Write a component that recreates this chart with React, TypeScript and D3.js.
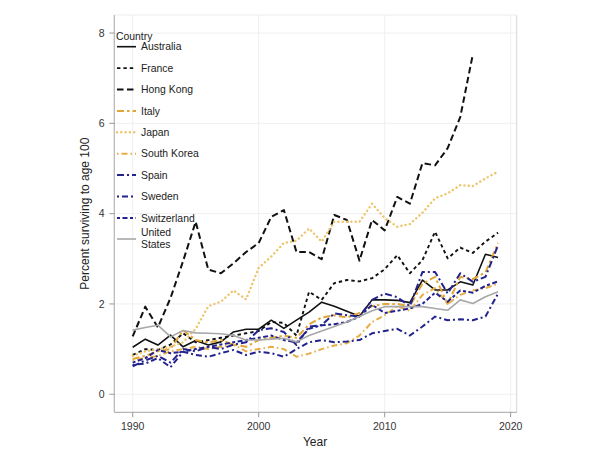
import React from "react";
import * as d3 from "d3";

const years = d3.range(1990, 2020);
const countries = ["Australia","France","Hong Kong","Italy","Japan","South Korea","Spain","Sweden","Switzerland","United States"];

const australia = [1.04,1.22,1.09,1.31,1.05,1.19,1.09,1.16,1.38,1.44,1.44,1.64,1.46,1.64,1.82,2.04,1.95,1.84,1.73,2.09,2.09,2.08,2.03,2.53,2.31,2.31,2.49,2.42,3.1,3.03];
const france = [0.87,1.0,0.98,1.1,1.35,1.15,1.2,1.25,1.3,1.35,1.4,1.6,1.58,1.3,2.27,2.09,2.46,2.53,2.5,2.57,2.77,3.08,2.68,2.97,3.6,3.01,3.25,3.13,3.38,3.58];
const hongKong = [1.28,1.94,1.48,2.13,2.95,3.82,2.76,2.68,2.9,3.15,3.35,3.93,4.08,3.15,3.15,2.99,3.97,3.86,2.96,3.86,3.63,4.37,4.22,5.12,5.07,5.45,6.14,7.53];
const italy = [0.78,0.85,0.95,1.0,1.42,1.2,1.15,1.2,1.1,1.05,1.2,1.25,1.3,1.25,1.55,1.7,1.75,1.7,1.8,1.95,2.0,2.0,1.95,2.45,2.6,2.0,2.6,2.55,2.7,3.35];
const japan = [0.85,0.95,1.0,1.05,1.15,1.45,1.95,2.05,2.3,2.1,2.8,3.05,3.35,3.4,3.67,3.38,3.82,3.82,3.82,4.22,3.9,3.71,3.77,4.02,4.34,4.45,4.63,4.61,4.78,4.93];
const southKorea = [0.75,0.8,0.85,0.95,1.0,1.05,1.0,1.05,1.1,0.95,1.0,1.05,1.0,0.83,0.9,1.0,1.08,1.13,1.3,1.6,1.75,1.95,1.85,2.2,2.35,2.0,2.2,2.3,2.35,2.45];
const spain = [0.62,0.75,0.85,0.7,1.0,0.95,1.05,1.0,1.1,1.15,1.42,1.46,1.38,1.09,1.5,1.53,1.79,1.75,1.72,2.09,2.23,2.15,1.95,2.71,2.71,2.23,2.68,2.49,2.6,3.3];
const sweden = [0.65,0.68,0.8,0.6,0.94,0.87,0.83,0.91,0.98,0.87,0.94,0.91,0.83,1.0,1.15,1.2,1.15,1.17,1.2,1.35,1.4,1.45,1.3,1.5,1.72,1.64,1.66,1.64,1.72,2.23];
const switzerland = [0.7,0.8,0.98,0.91,0.94,1.0,1.05,1.1,1.15,1.2,1.25,1.3,1.2,1.15,1.45,1.53,1.55,1.6,1.72,1.98,1.8,1.85,1.9,2.0,2.25,2.05,2.3,2.25,2.4,2.5];
const unitedStates = [1.42,1.48,1.53,1.27,1.41,1.36,1.35,1.34,1.3,1.2,1.2,1.22,1.24,1.16,1.3,1.4,1.5,1.6,1.72,1.85,1.94,1.94,1.94,1.94,1.9,1.86,2.09,2.01,2.16,2.27];

const seriesValues = [australia,france,hongKong,italy,japan,southKorea,spain,sweden,switzerland,unitedStates];

const xTicks = [1990, 2000, 2010, 2020];
const yTicks = [0, 2, 4, 6, 8];

const styles: Record<string, { color: string; dash: string; width: number; cap?: string }> = {
  "Australia": { color: "#111111", dash: "", width: 1.6 },
  "France": { color: "#111111", dash: "3.4,3", width: 1.9 },
  "Hong Kong": { color: "#111111", dash: "6.5,3.5", width: 2 },
  "Italy": { color: "#E3A535", dash: "7,3,2.5,3", width: 2 },
  "Japan": { color: "#EDC46A", dash: "0.1,4.2", width: 2.4, cap: "round" },
  "South Korea": { color: "#E6AE45", dash: "1.5,3,6,3", width: 2 },
  "Spain": { color: "#23238F", dash: "7,3,2,3", width: 2 },
  "Sweden": { color: "#23238F", dash: "2,3,6,3", width: 2 },
  "Switzerland": { color: "#23238F", dash: "3,2.5,5,2.5", width: 2 },
  "United States": { color: "#A8A8A8", dash: "", width: 1.6 },
};

export default function App() {
  const W = 603, H = 464;
  const left = 114.3, right = 516.7, top = 15, bottom = 412.3;
  const x = d3.scaleLinear().domain([1988.54, 2020.48]).range([left, right]);
  const y = d3.scaleLinear().domain([-0.4, 8.4]).range([bottom, top]);
  const line = d3.line<number>().x((_, i) => x(years[i])).y((d) => y(d));
  const font = "'Liberation Sans', Arial, sans-serif";
  const legendY0 = 46.7, legendStep = 21.4;
  const lfs = 10.4;

  return (
    <svg width={W} height={H} style={{ position: "absolute", left: 0, top: 0, background: "#fff" }} fontFamily={font}>
      <rect x={0} y={0} width={W} height={H} fill="#fff" />
      {xTicks.map((t) => (
        <line key={"gx" + t} x1={x(t)} x2={x(t)} y1={top} y2={bottom} stroke="#EFEFEF" strokeWidth={1} />
      ))}
      {yTicks.map((t) => (
        <line key={"gy" + t} x1={left} x2={right} y1={y(t)} y2={y(t)} stroke="#EFEFEF" strokeWidth={1} />
      ))}
      <line x1={right} x2={right} y1={top} y2={bottom} stroke="#D6D6D6" strokeWidth={1} />
      <line x1={left} x2={right} y1={top} y2={top} stroke="#EDEDED" strokeWidth={1} />
      <line x1={left} x2={left} y1={top} y2={bottom} stroke="#B5B5B5" strokeWidth={1.2} />
      <line x1={left} x2={right} y1={bottom} y2={bottom} stroke="#B5B5B5" strokeWidth={1.2} />
      {xTicks.map((t) => (
        <g key={"tx" + t}>
          <line x1={x(t)} x2={x(t)} y1={bottom} y2={bottom + 5} stroke="#999" />
          <text x={x(t)} y={429.5} textAnchor="middle" fontSize={10.5} fill="#333">{t}</text>
        </g>
      ))}
      {yTicks.map((t) => (
        <g key={"ty" + t}>
          <line x1={left - 5} x2={left} y1={y(t)} y2={y(t)} stroke="#999" />
          <text x={104.5} y={y(t) + 3.7} textAnchor="end" fontSize={10.5} fill="#333">{t}</text>
        </g>
      ))}
      <text x={315} y={446} textAnchor="middle" fontSize={12} fill="#222">Year</text>
      <text transform={`translate(89,${(top + bottom) / 2}) rotate(-90)`} textAnchor="middle" fontSize={12} fill="#222">
        Percent surviving to age 100
      </text>
      {countries.map((c, i) => {
        const s = styles[c];
        return (
          <path key={c} d={line(seriesValues[i]) || ""} fill="none" stroke={s.color} strokeWidth={s.width}
            strokeDasharray={s.dash || undefined} strokeLinecap={(s.cap as any) || "butt"} strokeLinejoin="round" />
        );
      })}
      <text x={116} y={39.5} fontSize={lfs} fill="#222">Country</text>
      {countries.map((c, i) => {
        const s = styles[c];
        const ly = c === "United States" ? 239 : legendY0 + i * legendStep;
        return (
          <g key={"lg" + c}>
            <line x1={117} x2={136} y1={ly} y2={ly} stroke={s.color} strokeWidth={s.width}
              strokeDasharray={s.dash || undefined} strokeLinecap={(s.cap as any) || "butt"} />
            {c === "United States" ? (
              <>
                <text x={141} y={235.5} fontSize={lfs} fill="#222">United</text>
                <text x={141} y={247.8} fontSize={lfs} fill="#222">States</text>
              </>
            ) : (
              <text x={141} y={ly + 3.6} fontSize={lfs} fill="#222">{c}</text>
            )}
          </g>
        );
      })}
    </svg>
  );
}
